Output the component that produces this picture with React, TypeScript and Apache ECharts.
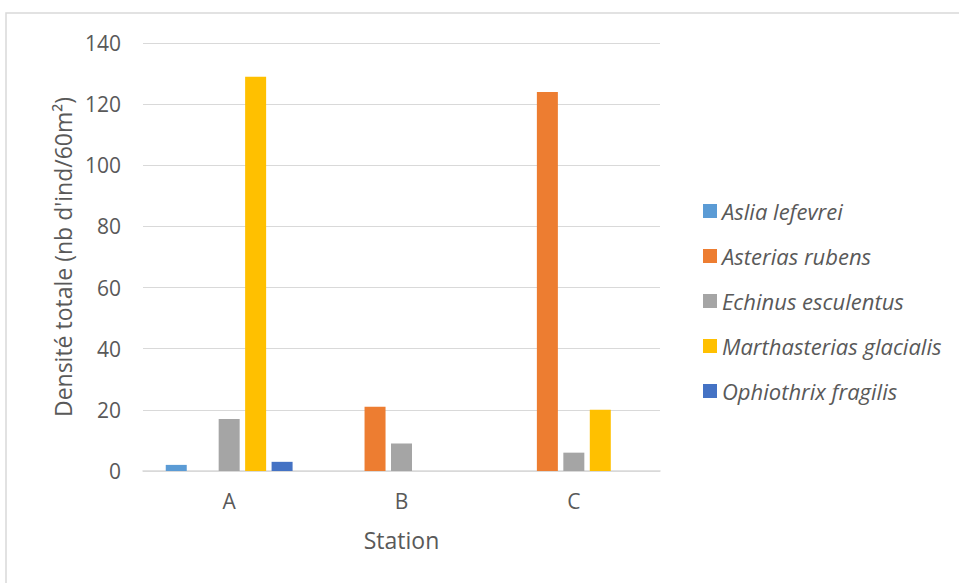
import React, { useEffect, useRef } from "react";
import * as echarts from "echarts";

const stations = ["A", "B", "C"];
const asliaLefevrei = [2, 0, 0];
const asteriasRubens = [0, 21, 124];
const echinusEsculentus = [17, 9, 6];
const marthasteriasGlacialis = [129, 0, 20];
const ophiothrixFragilis = [3, 0, 0];
const yTicks = { min: 0, max: 140, interval: 20 };

const seriesNames = [
  "Aslia lefevrei",
  "Asterias rubens",
  "Echinus esculentus",
  "Marthasterias glacialis",
  "Ophiothrix fragilis",
];
const seriesData = [asliaLefevrei, asteriasRubens, echinusEsculentus, marthasteriasGlacialis, ophiothrixFragilis];
const colors = ["#5B9BD5", "#ED7D31", "#A5A5A5", "#FFC000", "#4472C4"];

const FONT = "'Open Sans', Lato, sans-serif";

export default function App() {
  const ref = useRef<HTMLDivElement>(null);
  useEffect(() => {
    document.body.style.margin = "0";
    const chart = echarts.init(ref.current!, null, { renderer: "svg" });
    chart.setOption({
      animation: false,
      backgroundColor: "#ffffff",
      color: colors,
      graphic: [
        {
          type: "rect",
          shape: { x: 6, y: 13, width: 1000, height: 600 },
          style: { fill: "none", stroke: "#d9d9d9", lineWidth: 1.5 },
          silent: true,
        },
      ],
      grid: { left: 143, right: 299, top: 43, bottom: 112 },
      legend: {
        orient: "vertical",
        left: 698,
        top: 195,
        itemWidth: 14,
        itemHeight: 14,
        itemGap: 23,
        icon: "rect",
        data: seriesNames,
        textStyle: {
          fontFamily: FONT,
          fontSize: 22,
          fontStyle: "italic",
          color: "#595959",
          lineHeight: 22,
        },
      },
      xAxis: {
        type: "category",
        data: stations,
        name: "Station",
        nameLocation: "middle",
        nameGap: 57,
        nameTextStyle: { fontFamily: FONT, fontSize: 23, color: "#595959" },
        axisLine: { show: true, lineStyle: { color: "#d9d9d9", width: 1.5 } },
        axisTick: { show: false },
        axisLabel: { fontFamily: FONT, fontSize: 21, color: "#595959", margin: 19 },
      },
      yAxis: {
        type: "value",
        min: yTicks.min,
        max: yTicks.max,
        interval: yTicks.interval,
        name: "Densité totale (nb d'ind/60m²)",
        nameLocation: "middle",
        nameGap: 69,
        nameTextStyle: { fontFamily: FONT, fontSize: 23, color: "#595959" },
        axisLine: { show: false },
        axisTick: { show: false },
        axisLabel: { fontFamily: FONT, fontSize: 21, color: "#595959", margin: 22 },
        splitLine: { lineStyle: { color: "#d9d9d9", width: 1 } },
      },
      series: seriesNames.map((name, i) => ({
        name,
        type: "bar",
        data: seriesData[i],
        barWidth: 21,
        barGap: "26%",
        itemStyle: { color: colors[i] },
      })),
    });
    return () => chart.dispose();
  }, []);
  return <div ref={ref} style={{ width: 959, height: 583 }} />;
}
